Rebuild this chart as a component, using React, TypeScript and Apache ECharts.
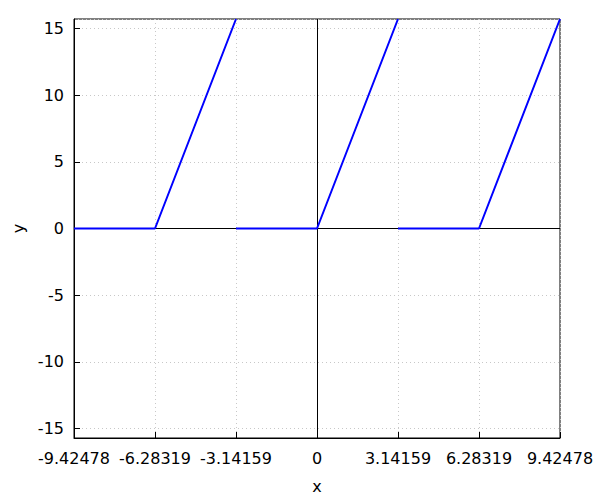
import React, { useEffect, useRef } from "react";
import * as echarts from "echarts";

const PI = Math.PI;
const X_MIN = -3 * PI;
const X_MAX = 3 * PI;
const Y_MIN = -5 * PI;
const Y_MAX = 5 * PI;

// three separate line pieces of the plotted curve
const seg1X = [-3 * PI, -2 * PI, -PI];
const seg1Y = [0, 0, 5 * PI];
const seg2X = [-PI, 0, PI];
const seg2Y = [0, 0, 5 * PI];
const seg3X = [PI, 2 * PI, 3 * PI];
const seg3Y = [0, 0, 5 * PI];

const segmentsX = [seg1X, seg2X, seg3X];
const segmentsY = [seg1Y, seg2Y, seg3Y];

const FONT = "DejaVu Sans";
const FS = 16;

export default function App() {
  const ref = useRef<HTMLDivElement>(null);
  useEffect(() => {
    document.body.style.margin = "0";
    if (!ref.current) return;
    const chart = echarts.init(ref.current, undefined, { renderer: "svg" });
    const series: any[] = segmentsX.map((xs, i) => ({
      type: "line",
      data: xs.map((x, j) => [x, segmentsY[i][j]]),
      showSymbol: false,
      symbol: "none",
      lineStyle: { color: "#0000ff", width: 2 },
      z: 5,
      clip: true,
    }));
    series.push({
      type: "line",
      data: [],
      markLine: {
        silent: true,
        symbol: ["none", "none"],
        label: { show: false },
        lineStyle: { color: "#000", width: 1, type: "solid" },
        data: [{ xAxis: 0 }, { yAxis: 0 }],
        z: 2,
      },
    });
    chart.setOption({
      animation: false,
      backgroundColor: "#fff",
      grid: {
        left: 74,
        right: 40,
        top: 19,
        bottom: 62,
        containLabel: false,
        outerBoundsMode: "none",
        show: true,
        borderColor: "#000",
        borderWidth: 1,
        backgroundColor: "transparent",
      },
      xAxis: {
        type: "value",
        min: X_MIN,
        max: X_MAX,
        interval: PI,
        name: "x",
        nameLocation: "middle",
        nameGap: 40,
        nameTextStyle: { fontFamily: FONT, fontSize: FS, color: "#000" },
        axisLine: { show: true, onZero: false, lineStyle: { color: "#000", width: 1 } },
        axisTick: { show: true, inside: true, length: 6, lineStyle: { color: "#000" } },
        axisLabel: {
          show: true,
          margin: 12,
          fontFamily: FONT,
          fontSize: FS,
          color: "#000",
          showMinLabel: true,
          showMaxLabel: true,
          hideOverlap: false,
          formatter: (v: number) => (Math.abs(v) < 1e-6 ? "0" : v.toFixed(5)),
        },
        splitLine: { show: true, lineStyle: { color: "#c8c8c8", width: 1, type: [1, 3] } },
      },
      yAxis: {
        type: "value",
        min: Y_MIN,
        max: Y_MAX,
        splitNumber: 6,
        name: "y",
        nameLocation: "middle",
        nameGap: 46,
        nameTextStyle: { fontFamily: FONT, fontSize: FS, color: "#000" },
        axisLine: { show: true, onZero: false, lineStyle: { color: "#000", width: 1 } },
        axisTick: { show: true, inside: true, length: 6, lineStyle: { color: "#000" } },
        axisLabel: {
          show: true,
          margin: 10,
          fontFamily: FONT,
          fontSize: FS,
          color: "#000",
          showMinLabel: false,
          showMaxLabel: false,
          formatter: (v: number) => String(Math.round(v)),
        },
        splitLine: { show: true, lineStyle: { color: "#c8c8c8", width: 1, type: [1, 3] } },
      },
      series,
    });
    return () => chart.dispose();
  }, []);
  return <div ref={ref} style={{ width: 600, height: 500 }} />;
}
